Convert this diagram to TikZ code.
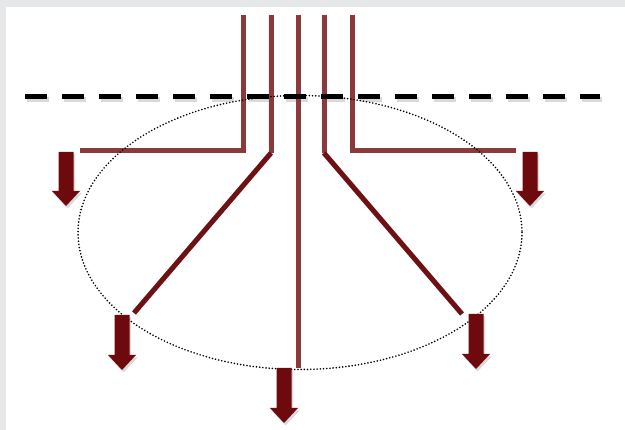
\documentclass[tikz,border=0pt]{standalone}
\usetikzlibrary{calc}
\definecolor{wire}{HTML}{8A3A3B}
\definecolor{wiredark}{HTML}{6E1114}
\definecolor{arrowred}{HTML}{6E0A0E}
\definecolor{framegray}{HTML}{E6E7E9}
\tikzset{
  wireline/.style={draw=wire, line width=5pt, line cap=butt, line join=miter},
  diagline/.style={draw=wiredark, line width=5pt, line cap=butt},
  shadowline/.style={draw=black, opacity=0.15, line width=5pt},
  cutline/.style={draw=black, line width=5pt, dash pattern=on 22pt off 15pt},
  zoneoutline/.style={draw=black, line width=1.8pt, dash pattern=on 0pt off 3.2pt, line cap=round},
  blockarrow/.style={fill=arrowred},
  arrowshadow/.style={fill=black, opacity=0.15},
}
\newcommand{\blockarrowat}[3]{% x, top y, tip y
  \fill[arrowshadow] ($(#1-7.5+1.5,#2+2.5)$) -- ($(#1+7.5+1.5,#2+2.5)$) -- ($(#1+7.5+1.5,#3-15+2.5)$) -- ($(#1+14+1.5,#3-15+2.5)$) -- ($(#1+1.5,#3+2.5)$) -- ($(#1-14+1.5,#3-15+2.5)$) -- ($(#1-7.5+1.5,#3-15+2.5)$) -- cycle;
  \fill[blockarrow] (#1-7.5,#2) -- (#1+7.5,#2) -- (#1+7.5,#3-15) -- (#1+14,#3-15) -- (#1,#3) -- (#1-14,#3-15) -- (#1-7.5,#3-15) -- cycle;
}
\begin{document}
\begin{tikzpicture}[x=1pt,y=-1pt]
\useasboundingbox (0,0) rectangle (625,430);
\fill[framegray] (0,0) rectangle (625,430);
\fill[white] (6,7) rectangle (625,430);

% coordinates
\coordinate (t1) at (243,15);
\coordinate (t2) at (271,15);
\coordinate (t3) at (298,15);
\coordinate (t4) at (324,15);
\coordinate (t5) at (352,15);
\coordinate (c1) at (243,151);
\coordinate (c2) at (271,153);
\coordinate (c3) at (298,368);
\coordinate (c4) at (324,153);
\coordinate (c5) at (352,151);
\coordinate (e1) at (80,151);
\coordinate (e2) at (134,313);
\coordinate (e4) at (462,314);
\coordinate (e5) at (516,151);

% shadows
\begin{scope}[shift={(1.5,2.5)}]
\draw[shadowline] (t1) -- (c1) -- (e1);
\draw[shadowline] (t2) -- (c2) -- (e2);
\draw[shadowline] (t3) -- (c3);
\draw[shadowline] (t4) -- (c4) -- (e4);
\draw[shadowline] (t5) -- (c5) -- (e5);
\draw[shadowline, dash pattern=on 22pt off 15pt] (25,97) -- (600,97);
\end{scope}

% wires
\draw[wireline] (t1) -- (c1) -- (e1);
\draw[wireline] (t2) -- (c2);
\draw[diagline] (c2) -- (e2);
\draw[wireline] (t3) -- (c3);
\draw[wireline] (t4) -- (c4);
\draw[diagline] (c4) -- (e4);
\draw[wireline] (t5) -- (c5) -- (e5);

% cut line
\coordinate (cutL) at (25,97);
\coordinate (cutR) at (600,97);
\draw[cutline] (cutL) -- (cutR);

% zone ellipse
\coordinate (zc) at (300,232.5);
\draw[zoneoutline] (zc) ellipse [x radius=222, y radius=137];

% arrows
\blockarrowat{66}{152}{206}
\blockarrowat{530}{152}{206}
\blockarrowat{122}{315}{370}
\blockarrowat{284}{368}{423}
\blockarrowat{476}{314}{369}
\end{tikzpicture}
\end{document}
